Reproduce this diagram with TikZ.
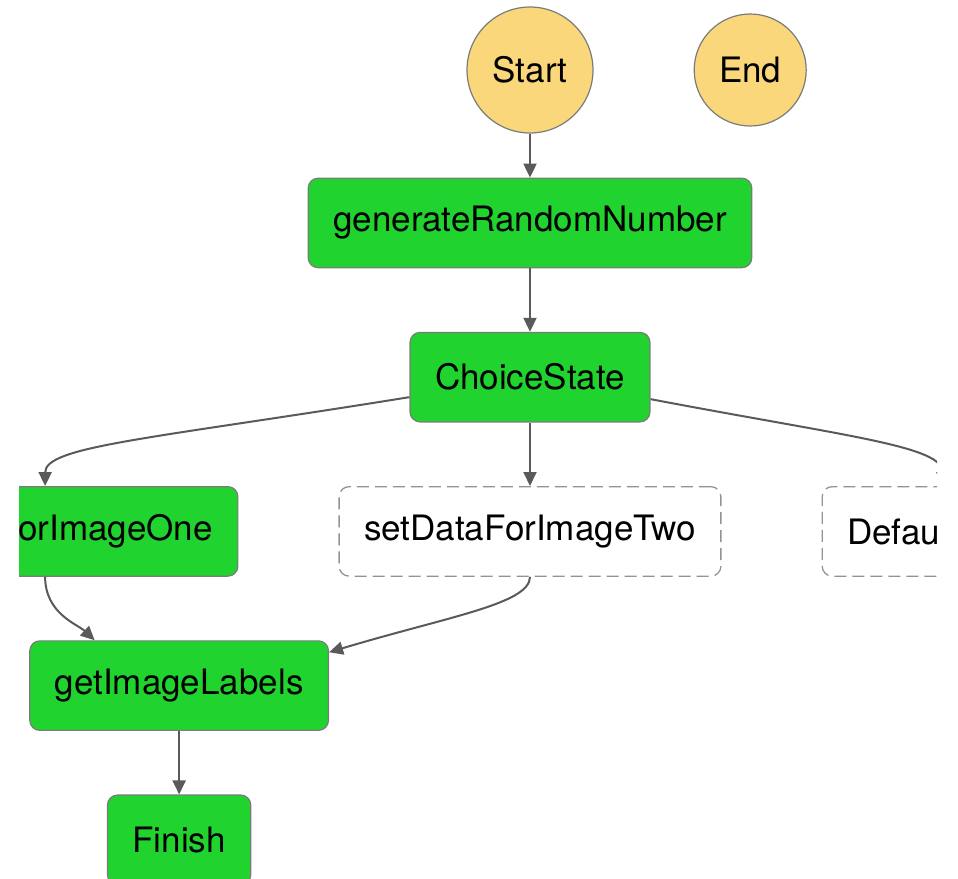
\documentclass[tikz,border=0pt]{standalone}
\usepackage{fontspec}
\setmainfont{TeX Gyre Heros}
\usetikzlibrary{positioning,arrows.meta}
\definecolor{stgreen}{RGB}{33,211,47}
\definecolor{stgold}{RGB}{249,215,122}
\definecolor{stline}{RGB}{90,90,90}
\begin{document}
\begin{tikzpicture}[x=1pt, y=-1pt, font=\fontsize{35}{42}\selectfont,
	st/.style={rectangle, rounded corners=10pt, draw=stline!80, line width=1.2pt, fill=stgreen, minimum height=89.5pt, inner xsep=25pt},
	pass/.style={rectangle, rounded corners=10pt, draw=gray!85, line width=1.3pt, dash pattern=on 12pt off 6pt, fill=white, minimum height=89.5pt, inner xsep=25pt},
	term/.style={circle, draw=stline!80, line width=1.2pt, fill=stgold, inner sep=0pt},
	flow/.style={draw=stline, line width=2pt, -{Triangle[length=14pt,width=13pt]}}]
	\useasboundingbox (0,0) rectangle (958,878);
	\clip (19,0) rectangle (937,878);

	\node[term, minimum size=126pt] (start) at (530,70) {Start};
	\node[term, minimum size=112pt, right=100pt of start] (end) {End};
	\node[st, below=44pt of start] (gen) {generateRandomNumber};
	\node[st, below=63.5pt of gen] (choice) {ChoiceState};
	\node[pass, below=63.5pt of choice] (two) {setDataForImageTwo};
	\node[st, left=100pt of two] (one) {setDataForImageOne};
	\node[pass, right=100pt of two] (default) {DefaultState};
	\node[st, below=63.5pt of one, xshift=134pt] (labels) {getImageLabels};
	\node[st, below=63.5pt of labels] (finish) {Finish};

	\draw[flow] (start) -- (gen);
	\draw[flow] (gen) -- (choice);
	\draw[flow] (choice) -- (two);
	\draw[flow] ([yshift=-20pt]choice.west) .. controls +(-260,42) and +(0,-40) .. (one.north);
	\draw[flow] ([yshift=-22pt]choice.east) .. controls +(200,38) and +(0,-40) .. (default.north);
	\draw[flow] (one.south) .. controls +(0,37) and +(-17,-16) .. ([xshift=-84.5pt]labels.north);
	\draw[flow] (two.south) .. controls +(0,27) and +(120,-36) .. ([yshift=-12pt]labels.north east);
	\draw[flow] (labels) -- (finish);
\end{tikzpicture}
\end{document}
